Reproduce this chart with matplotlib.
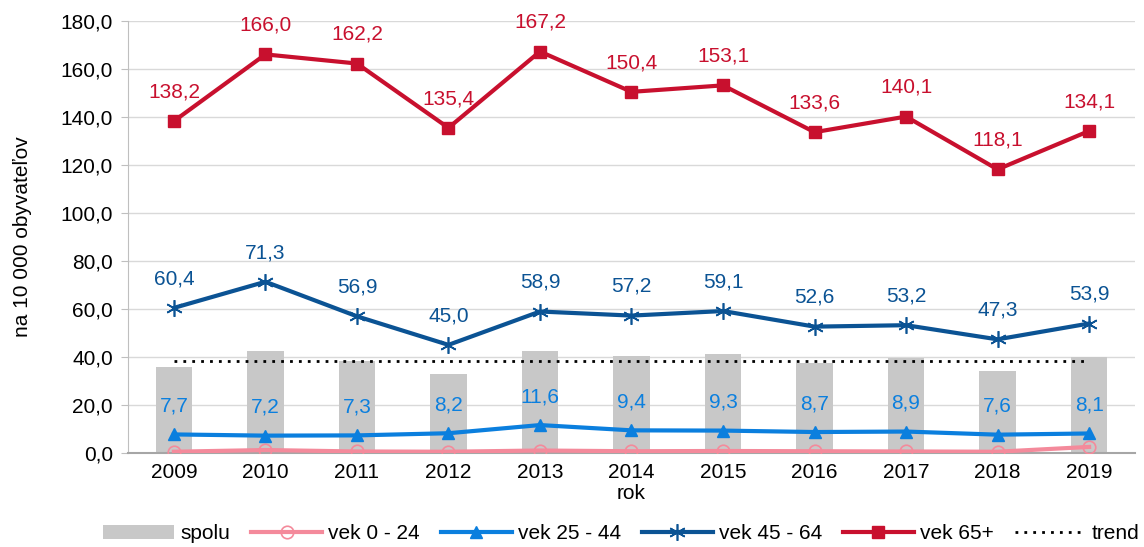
import matplotlib.pyplot as plt
import numpy as np

plt.rcParams['font.family'] = ['Liberation Sans', 'DejaVu Sans']

years = ['2009', '2010', '2011', '2012', '2013', '2014', '2015', '2016', '2017', '2018', '2019']
spolu = [35.8, 42.5, 38.3, 32.9, 42.5, 40.2, 41.2, 37.5, 39.6, 34.2, 40.0]
vek_0_24 = [0.5, 1.2, 0.6, 0.5, 1.0, 0.7, 0.8, 0.7, 0.6, 0.5, 2.5]
vek_25_44 = [7.7, 7.2, 7.3, 8.2, 11.6, 9.4, 9.3, 8.7, 8.9, 7.6, 8.1]
vek_45_64 = [60.4, 71.3, 56.9, 45.0, 58.9, 57.2, 59.1, 52.6, 53.2, 47.3, 53.9]
vek_65 = [138.2, 166.0, 162.2, 135.4, 167.2, 150.4, 153.1, 133.6, 140.1, 118.1, 134.1]
trend = [38.4] * len(years)

c_bar = '#C8C8C8'
c_pink = '#F48A9B'
c_light = '#0B7FDE'
c_dark = '#0B5394'
c_red = '#C8102E'
fs = 15

def fmt(v):
    return f'{v:.1f}'.replace('.', ',')

x = np.arange(len(years))
fig, ax = plt.subplots(figsize=(11.44, 5.47), dpi=100)
fig.subplots_adjust(left=0.112, right=0.992, top=0.962, bottom=0.172)

ax.bar(x, spolu, width=0.4, color=c_bar, label='spolu', zorder=2)
ax.plot(x, vek_0_24, color=c_pink, lw=3, marker='o', ms=9, mfc='none', mec=c_pink,
        mew=1.2, label='vek 0 - 24', zorder=3)
ax.plot(x, vek_25_44, color=c_light, lw=3, marker='^', ms=9, label='vek 25 - 44', zorder=3)
ax.plot(x, vek_45_64, color=c_dark, lw=3, marker=(6, 2, 0), ms=12, mew=1.2,
        label='vek 45 - 64', zorder=3)
ax.plot(x, vek_65, color=c_red, lw=3, marker='s', ms=9, label='vek 65+', zorder=3)
ax.plot(x, trend, color='black', lw=2, ls=(0, (1, 2.2)), label='trend', zorder=3)

for i in x:
    ax.annotate(fmt(vek_25_44[i]), (i, vek_25_44[i]), xytext=(0, 20.5), textcoords='offset points',
                ha='center', va='center', color=c_light, fontsize=fs)
    ax.annotate(fmt(vek_45_64[i]), (i, vek_45_64[i]), xytext=(0, 21), textcoords='offset points',
                ha='center', va='center', color=c_dark, fontsize=fs)
    ax.annotate(fmt(vek_65[i]), (i, vek_65[i]), xytext=(0, 21), textcoords='offset points',
                ha='center', va='center', color=c_red, fontsize=fs)

ax.set_xlim(-0.5, len(years) - 0.5)
ax.set_ylim(0, 180)
ax.set_yticks(np.arange(0, 181, 20))
ax.set_yticklabels([fmt(v) for v in np.arange(0, 181, 20)], fontsize=fs)
ax.set_xticks(x)
ax.set_xticklabels(years, fontsize=fs)
ax.set_xlabel('rok', fontsize=fs, labelpad=2)
ax.set_ylabel('na 10 000 obyvateľov', fontsize=fs)
ax.yaxis.set_label_coords(-0.095, 0.5)
ax.tick_params(axis='x', length=0, pad=7)
ax.tick_params(axis='y', length=5, color='#BFBFBF', pad=6)
ax.grid(axis='y', color='#D9D9D9', lw=1, zorder=0)
ax.set_axisbelow(True)
for s in ['top', 'right']:
    ax.spines[s].set_visible(False)
ax.spines['left'].set_color('#BFBFBF')
ax.spines['bottom'].set_color('#A6A6A6')
ax.spines['bottom'].set_linewidth(1.5)

h, l = ax.get_legend_handles_labels()
order = [l.index(n) for n in ['spolu', 'vek 0 - 24', 'vek 25 - 44', 'vek 45 - 64', 'vek 65+', 'trend']]
ax.legend([h[k] for k in order], [l[k] for k in order], loc='upper center',
          bbox_to_anchor=(0.49, -0.122), ncol=6, frameon=False,
          fontsize=fs, handlelength=3.4, columnspacing=1.0, handletextpad=0.3)

fig.savefig('out.png')
